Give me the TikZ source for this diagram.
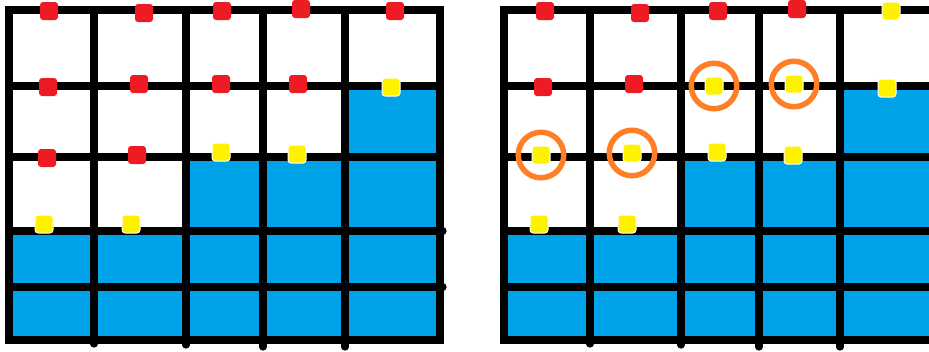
\documentclass[tikz,border=0pt]{standalone}
\definecolor{paintblue}{HTML}{00A2E8}
\definecolor{paintred}{HTML}{ED1C24}
\definecolor{paintyellow}{HTML}{FFF200}
\definecolor{paintorange}{HTML}{FF7F27}
\tikzset{
  gridline/.style={draw=black,line width=7.2pt},
  water/.style={fill=paintblue},
  redmark/.style={rectangle,fill=paintred,minimum size=18pt,inner sep=0pt,rounded corners=3pt},
  yellowmark/.style={rectangle,fill=paintyellow,draw=white,line width=1pt,minimum size=18pt,inner sep=0pt,rounded corners=3pt},
  ring/.style={circle,draw=paintorange,line width=5.5pt,minimum size=45.5pt,inner sep=0pt},
}
\begin{document}
\begin{tikzpicture}[x=1pt,y=-1pt]
\useasboundingbox[fill=white] (0,0) rectangle (929,351);
\clip (0,0) rectangle (929,351);
% ---------- left grid ----------
\fill[water] (9,231) rectangle (440,340);
\fill[water] (186,157) rectangle (440,231);
\fill[water] (345,86) rectangle (440,157);
\foreach \y in {86,157,231,287} \draw[gridline] (9,\y) -- (440,\y);
\foreach \y in {231,287} \draw[gridline,line cap=round] (430,\y) -- (443,\y);
\foreach \x/\e in {94/344,186/345,263/347,345/347} \draw[gridline,line cap=round] (\x,10) -- (\x,\e);
\draw[gridline] (9,10) rectangle (440,340);
% ---------- right grid ----------
\fill[water] (504,231) rectangle (940,340);
\fill[water] (681,157) rectangle (940,231);
\fill[water] (840,86) rectangle (940,157);
\foreach \y in {86,157,231,287} \draw[gridline] (504,\y) -- (940,\y);
\foreach \x/\e in {590/344,681/345,759/347,840/347} \draw[gridline,line cap=round] (\x,10) -- (\x,\e);
\draw[gridline] (940,10) -- (504,10) -- (504,340) -- (940,340);
% ---------- left markers ----------
\node[redmark] (l11) at (49,11) {};
\node[redmark] (l12) at (144,13) {};
\node[redmark] (l13) at (222,11) {};
\node[redmark] (l14) at (301,9) {};
\node[redmark] (l15) at (395,11) {};
\node[redmark] (l21) at (48,87) {};
\node[redmark] (l22) at (139,84) {};
\node[redmark] (l23) at (221,84) {};
\node[redmark] (l24) at (298,84) {};
\node[yellowmark] (l25) at (391,87) {};
\node[redmark] (l31) at (47,158) {};
\node[redmark] (l32) at (137,155) {};
\node[yellowmark] (l33) at (221,152) {};
\node[yellowmark] (l34) at (297,154) {};
\node[yellowmark] (l41) at (44,224) {};
\node[yellowmark] (l42) at (131,224) {};
% ---------- right markers ----------
\node[redmark] (r11) at (545,11) {};
\node[redmark] (r12) at (640,13) {};
\node[redmark] (r13) at (718,11) {};
\node[redmark] (r14) at (797,9) {};
\node[yellowmark] (r15) at (891,11) {};
\node[redmark] (r21) at (543,87) {};
\node[redmark] (r22) at (634,84) {};
\node[yellowmark] (r23) at (714,86) {};
\node[yellowmark] (r24) at (794,84) {};
\node[yellowmark] (r25) at (887,88) {};
\node[yellowmark] (r31) at (541,155) {};
\node[yellowmark] (r32) at (632,153) {};
\node[yellowmark] (r33) at (717,152) {};
\node[yellowmark] (r34) at (793,155) {};
\node[yellowmark] (r41) at (539,224) {};
\node[yellowmark] (r42) at (627,224) {};
% ---------- rings ----------
\node[ring] (c1) at (r31) {};
\node[ring] (c2) at (r32) {};
\node[ring] (c3) at (r23) {};
\node[ring] (c4) at (r24) {};
\end{tikzpicture}
\end{document}
